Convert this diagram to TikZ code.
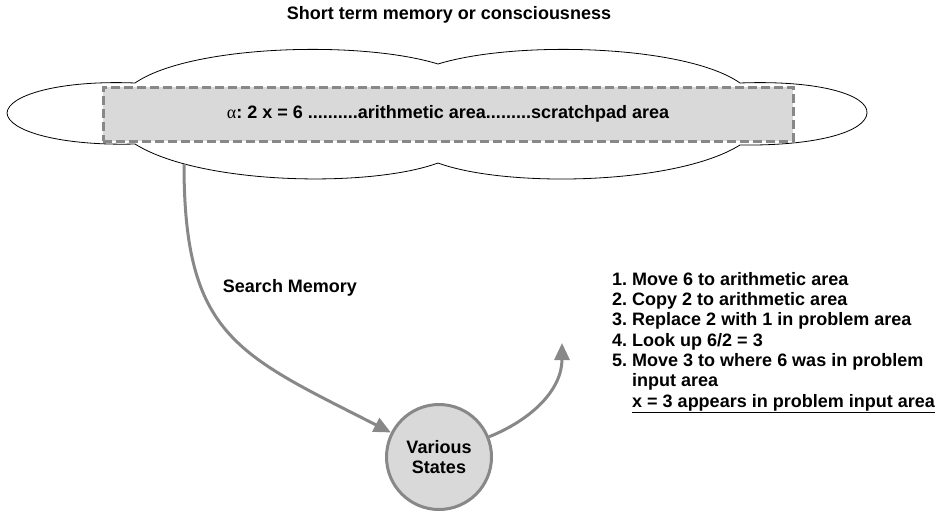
\documentclass[tikz,border=0pt]{standalone}
\usepackage{fontspec}
\setmainfont{Liberation Sans}
\newfontfamily\grk{Liberation Serif}
\usetikzlibrary{arrows.meta}
\definecolor{linegray}{HTML}{888888}
\definecolor{boxgray}{HTML}{D9D9D9}

\begin{document}
\begin{tikzpicture}[x=1pt,y=1pt,font=\bfseries\fontsize{18}{20.3}\selectfont\frenchspacing,
    flow/.style={draw=linegray,line width=3pt,-{Triangle[length=17pt,width=15pt]}},
    membox/.style={draw=linegray,fill=boxgray,line width=3pt,dash pattern=on 9pt off 4pt,minimum width=690pt,minimum height=54pt},
    statecirc/.style={circle,draw=linegray,fill=boxgray,line width=3pt,minimum size=105pt,inner sep=0pt,align=center}]
\useasboundingbox (0,0) rectangle (942,-511);
\node (title) at (449,-15) {Short term memory or consciousness};
\draw[line width=0.8pt] (135,-83) .. controls (190,-45) and (360,-40) .. (438,-64)
    .. controls (516,-40) and (686,-45) .. (740,-83)
    .. controls (820,-80) and (868,-95) .. (867,-113)
    .. controls (866,-131) and (820,-146) .. (740,-145)
    .. controls (676,-185) and (506,-188) .. (438,-163)
    .. controls (370,-188) and (200,-185) .. (135,-144)
    .. controls (60,-146) and (8,-131) .. (7,-113)
    .. controls (8,-95) and (60,-80) .. (135,-83) -- cycle;
\node[membox] (memory) at (448,-114) {{\grk\mdseries α}: 2 x = 6 ..........arithmetic area.........scratchpad area};
\coordinate (cloudbottom) at (184,-164);
\node[statecirc] (states) at (439,-457) {Various\\States};
\node (search) at (290,-288) {Search Memory};
\coordinate (stepstip) at (562,-343);
\draw[flow] (cloudbottom) to[out=-90,in=153,looseness=1.3] (states);
\draw[flow] (states) to[out=22,in=-90] (stepstip);
\node[anchor=north west,align=left,inner sep=0pt] (steps) at (612,-272) {1. Move 6 to arithmetic area\\
    2. Copy 2 to arithmetic area\\
    3. Replace 2 with 1 in problem area\\
    4. Look up 6/2 = 3\\
    5. Move 3 to where 6 was in problem\\
    \hphantom{5.}\ input area\\
    \hphantom{5.}\ \underline{x = 3 appears in problem input area}};
\end{tikzpicture}
\end{document}
